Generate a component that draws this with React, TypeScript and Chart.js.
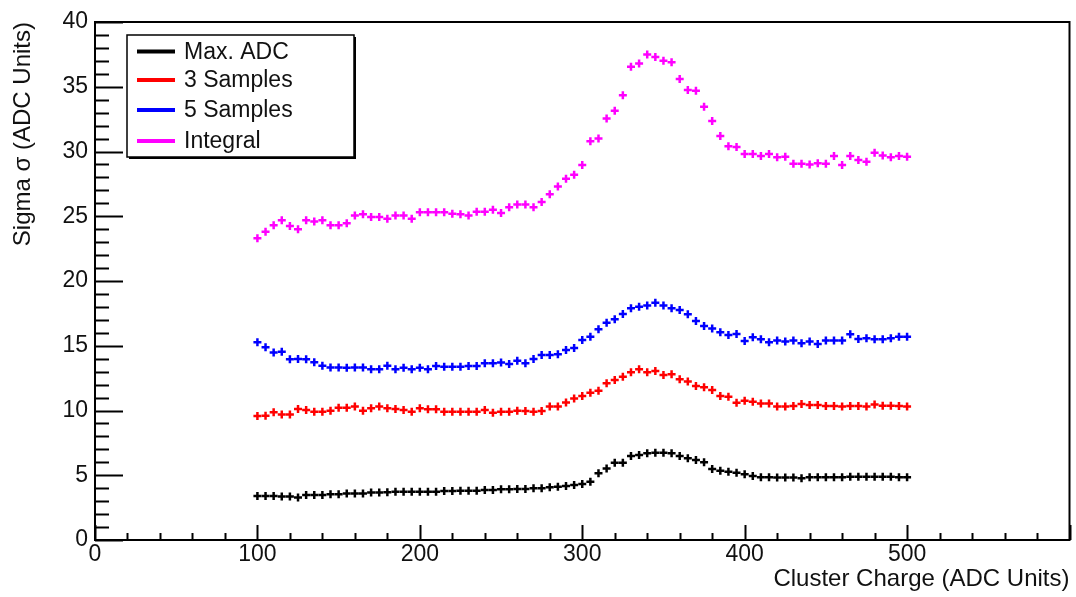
import React, { useEffect, useRef } from 'react';
import { Chart, registerables } from 'chart.js';

Chart.register(...registerables);

const charge = [
  100, 105, 110, 115, 120, 125, 130, 135, 140, 145,
  150, 155, 160, 165, 170, 175, 180, 185, 190, 195,
  200, 205, 210, 215, 220, 225, 230, 235, 240, 245,
  250, 255, 260, 265, 270, 275, 280, 285, 290, 295,
  300, 305, 310, 315, 320, 325, 330, 335, 340, 345,
  350, 355, 360, 365, 370, 375, 380, 385, 390, 395,
  400, 405, 410, 415, 420, 425, 430, 435, 440, 445,
  450, 455, 460, 465, 470, 475, 480, 485, 490, 495, 500,
];

const maxAdc = [
  3.4, 3.4, 3.4, 3.35, 3.35, 3.28, 3.48, 3.48, 3.48, 3.53,
  3.53, 3.6, 3.6, 3.6, 3.66, 3.66, 3.68, 3.73, 3.73, 3.73,
  3.73, 3.73, 3.73, 3.78, 3.78, 3.8, 3.8, 3.8, 3.86, 3.86,
  3.91, 3.91, 3.94, 3.94, 3.99, 3.99, 4.07, 4.12, 4.17, 4.25,
  4.32, 4.5, 5.15, 5.53, 5.97, 5.97, 6.49, 6.56, 6.69, 6.74,
  6.74, 6.69, 6.49, 6.31, 6.18, 6.0, 5.48, 5.35, 5.27, 5.2,
  5.07, 4.94, 4.84, 4.84, 4.82, 4.82, 4.82, 4.76, 4.84, 4.84,
  4.84, 4.84, 4.84, 4.89, 4.89, 4.89, 4.89, 4.89, 4.89, 4.84, 4.84,
];

const samples3 = [
  9.58, 9.6, 9.86, 9.7, 9.7, 10.12, 10.04, 9.9, 9.9, 9.98,
  10.22, 10.22, 10.3, 9.98, 10.17, 10.3, 10.17, 10.12, 10.04, 9.9,
  10.17, 10.09, 10.09, 9.9, 9.9, 9.9, 9.9, 9.9, 10.04, 9.83,
  9.9, 9.9, 9.98, 9.96, 9.9, 9.96, 10.3, 10.3, 10.62, 10.92,
  11.12, 11.38, 11.53, 12.1, 12.36, 12.61, 12.95, 13.18, 12.95, 13.05,
  12.74, 12.79, 12.41, 12.23, 11.89, 11.79, 11.58, 11.12, 11.07, 10.6,
  10.76, 10.68, 10.55, 10.55, 10.3, 10.3, 10.35, 10.5, 10.42, 10.42,
  10.35, 10.35, 10.3, 10.35, 10.35, 10.3, 10.47, 10.37, 10.37, 10.35, 10.3,
];

const samples5 = [
  15.27, 14.88, 14.47, 14.54, 13.95, 13.97, 13.95, 13.72, 13.46, 13.33,
  13.33, 13.3, 13.33, 13.33, 13.18, 13.18, 13.46, 13.18, 13.3, 13.18,
  13.3, 13.18, 13.43, 13.38, 13.38, 13.38, 13.43, 13.43, 13.64, 13.64,
  13.7, 13.6, 13.85, 13.64, 13.98, 14.29, 14.29, 14.34, 14.67, 14.82,
  15.44, 15.7, 16.27, 16.78, 17.04, 17.45, 17.89, 18.02, 18.1, 18.33,
  18.1, 17.89, 17.76, 17.43, 16.91, 16.52, 16.34, 16.04, 15.83, 15.9,
  15.37, 15.65, 15.5, 15.27, 15.4, 15.32, 15.4, 15.19, 15.32, 15.14,
  15.4, 15.4, 15.4, 15.88, 15.52, 15.57, 15.5, 15.5, 15.57, 15.7, 15.7,
];

const integral = [
  23.3, 23.8, 24.3, 24.7, 24.25, 24.0, 24.7, 24.6, 24.7, 24.3,
  24.3, 24.45, 25.05, 25.15, 24.95, 24.95, 24.8, 25.05, 25.05, 24.8,
  25.3, 25.3, 25.3, 25.3, 25.2, 25.15, 25.05, 25.35, 25.35, 25.5,
  25.25, 25.7, 25.9, 25.9, 25.7, 26.1, 26.7, 27.3, 27.9, 28.2,
  28.95, 30.8, 31.0, 32.55, 33.15, 34.35, 36.55, 36.8, 37.5, 37.3,
  37.0, 36.9, 35.6, 34.75, 34.7, 33.45, 32.35, 31.2, 30.4, 30.35,
  29.8, 29.8, 29.65, 29.8, 29.55, 29.6, 29.05, 29.05, 29.0, 29.1,
  29.05, 29.65, 28.95, 29.65, 29.35, 29.2, 29.9, 29.7, 29.55, 29.65, 29.6,
];

const seriesLabels = ['Max. ADC', '3 Samples', '5 Samples', 'Integral'];
const seriesColors = ['#000000', '#ff0000', '#0000ff', '#ff00ff'];
const seriesValues = [maxAdc, samples3, samples5, integral];

const xTickValues = [0, 100, 200, 300, 400, 500];
const xTitle = 'Cluster Charge (ADC Units)';
const yTitle = 'Sigma σ (ADC Units)';

const FONT = '"Liberation Sans", Arial, sans-serif';
const TEXT_COLOR = '#111';

const framePlugin = {
  id: 'rootFrame',
  afterDraw(chart: any) {
    const ctx = chart.ctx;
    const { left, right, top, bottom } = chart.chartArea;
    const xs = chart.scales.x;
    const ys = chart.scales.y;
    ctx.save();
    ctx.strokeStyle = '#000';
    ctx.lineWidth = 2;
    ctx.strokeRect(left, top, right - left, bottom - top);
    // y ticks (inward)
    for (let v = 0; v <= 40; v += 1) {
      const y = Math.round(ys.getPixelForValue(v)) + 0.5;
      const len = v % 5 === 0 ? 28 : 14;
      ctx.beginPath();
      ctx.moveTo(left, y);
      ctx.lineTo(left + len, y);
      ctx.stroke();
    }
    // x ticks (inward)
    for (let v = 0; v <= 600; v += 20) {
      const x = Math.round(xs.getPixelForValue(v)) + 0.5;
      const len = v % 100 === 0 ? 15 : 7;
      ctx.beginPath();
      ctx.moveTo(x, bottom);
      ctx.lineTo(x, bottom - len);
      ctx.stroke();
    }
    // legend
    const lx = 127, ly = 35, lw = 227, lh = 122;
    ctx.fillStyle = '#000';
    ctx.fillRect(lx + 2, ly + 2, lw, lh);
    ctx.fillStyle = '#fff';
    ctx.fillRect(lx, ly, lw, lh);
    ctx.lineWidth = 1.5;
    ctx.strokeRect(lx, ly, lw, lh);
    const rows = [51.5, 80, 110, 141];
    ctx.font = `23px ${FONT}`;
    ctx.textBaseline = 'middle';
    ctx.textAlign = 'left';
    seriesLabels.forEach((lab, i) => {
      ctx.strokeStyle = seriesColors[i];
      ctx.lineWidth = 4;
      ctx.beginPath();
      ctx.moveTo(137, rows[i]);
      ctx.lineTo(175, rows[i]);
      ctx.stroke();
      ctx.fillStyle = TEXT_COLOR;
      ctx.fillText(lab, 184, rows[i] + 1);
    });
    ctx.restore();
  },
};

export default function App() {
  const ref = useRef<HTMLCanvasElement | null>(null);

  useEffect(() => {
    document.body.style.margin = '0';
    const canvas = ref.current;
    if (!canvas) return;
    const datasets = seriesValues.map((vals, i) => ({
      label: seriesLabels[i],
      data: charge.map((c, j) => ({ x: c, y: vals[j] })),
      showLine: false,
      pointStyle: 'cross',
      pointRadius: 4,
      pointBorderWidth: 2.5,
      borderColor: seriesColors[i],
      backgroundColor: seriesColors[i],
      pointHoverRadius: 4,
    }));
    const chart = new Chart(canvas, {
      type: 'scatter',
      data: { datasets } as any,
      options: {
        responsive: false,
        animation: false,
        events: [],
        layout: { padding: { top: 22, right: 4, left: 0, bottom: 0 } },
        plugins: { legend: { display: false }, tooltip: { enabled: false } },
        scales: {
          x: {
            type: 'linear',
            min: 0,
            max: 600,
            afterBuildTicks: (s: any) => {
              s.ticks = xTickValues.map((v) => ({ value: v }));
            },
            afterFit: (s: any) => {
              s.height = 57;
            },
            grid: { display: false, drawTicks: false },
            border: { display: false },
            ticks: {
              color: TEXT_COLOR,
              font: { family: FONT, size: 23 },
              padding: 1,
              maxRotation: 0,
              autoSkip: false,
            },
            title: {
              display: true,
              text: xTitle,
              align: 'end',
              color: TEXT_COLOR,
              font: { family: FONT, size: 24 },
              padding: { top: 0, bottom: 3 },
            },
          },
          y: {
            type: 'linear',
            min: 0,
            max: 40,
            ticks: {
              stepSize: 5,
              color: TEXT_COLOR,
              font: { family: FONT, size: 23 },
              padding: 7,
            },
            afterFit: (s: any) => {
              s.width = 95;
            },
            grid: { display: false, drawTicks: false },
            border: { display: false },
            title: {
              display: true,
              text: yTitle,
              align: 'end',
              color: TEXT_COLOR,
              font: { family: FONT, size: 24 },
              padding: { top: 9, bottom: 0 },
            },
          },
        },
      } as any,
      plugins: [framePlugin],
    });
    return () => chart.destroy();
  }, []);

  return (
    <div style={{ width: 1076, height: 597, background: '#fff' }}>
      <canvas ref={ref} width={1076} height={597} style={{ display: 'block' }} />
    </div>
  );
}
